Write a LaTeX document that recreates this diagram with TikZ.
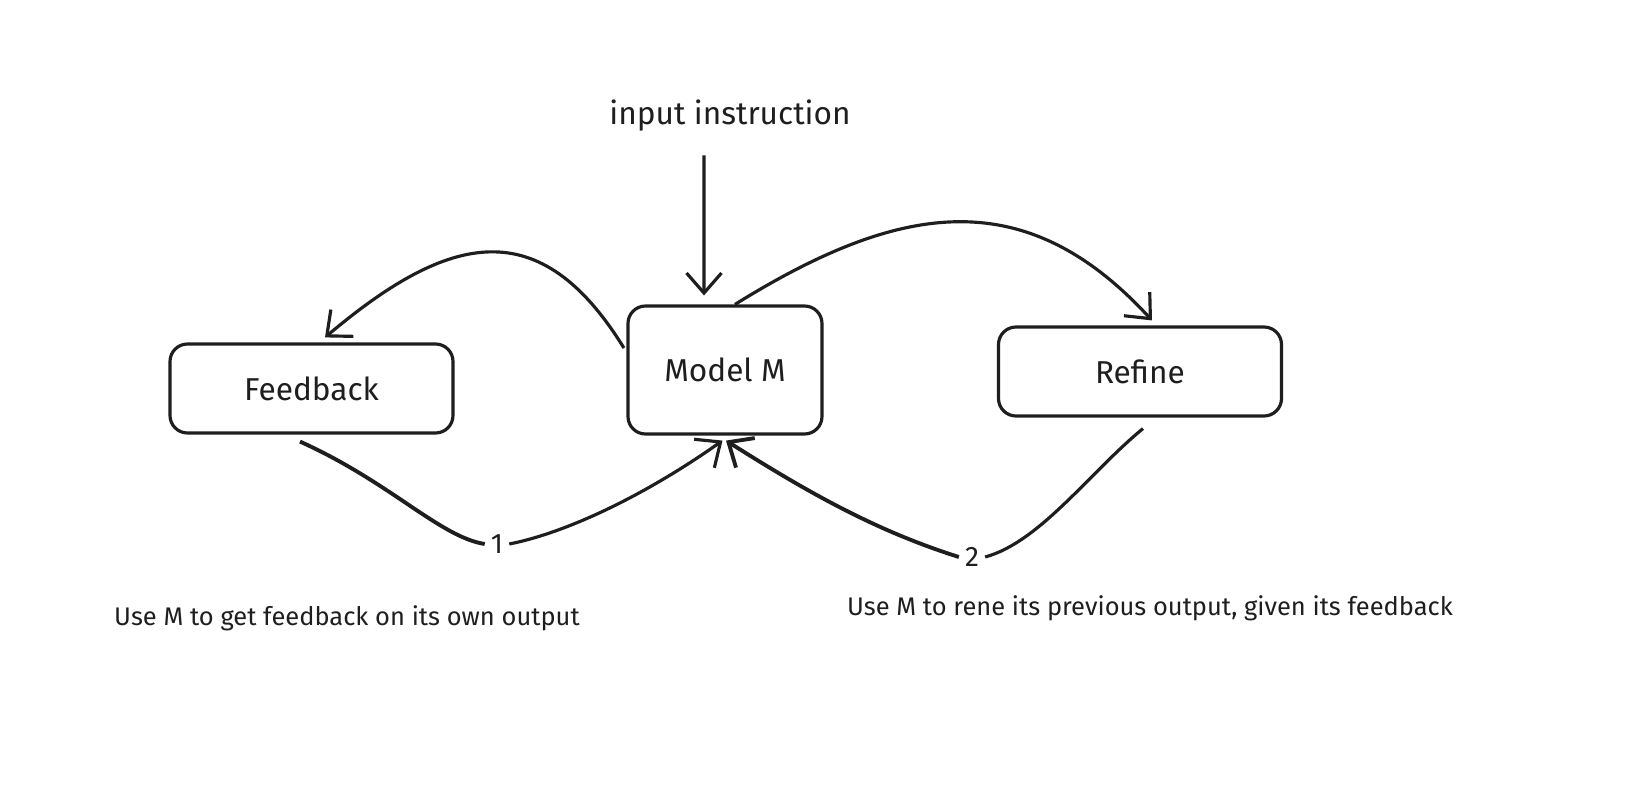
\documentclass[tikz,border=0pt]{standalone}
\usepackage{fontspec}
\setmainfont{Fira Sans}
\usepackage{tikz}
\usetikzlibrary{arrows.meta,positioning,calc}
\definecolor{inkblack}{HTML}{1E1E1E}

\begin{document}
\begin{tikzpicture}[
    stage/.style={rectangle, draw=inkblack, fill=white, text=inkblack,
                 minimum width=5.66cm, minimum height=1.78cm, line width=1.8pt,
                 rounded corners=0.35cm, font=\fontsize{18}{21}\selectfont},
    flow/.style={-{Straight Barb[length=4mm,width=7mm]}, line width=1.8pt, color=inkblack},
    note/.style={text=inkblack, font=\fontsize{14.5}{17}\selectfont}
]
    \useasboundingbox (0,0) rectangle (32.52,15.84);

    % Boxes
    \node[stage] (feedback) at (6.23,8.07) {Feedback};
    \node[stage, minimum width=3.88cm, minimum height=2.56cm] (model) at (14.5,8.44) {Model M};
    \node[stage] (refine) at (22.8,8.41) {Refine};

    % Input
    \node[text=inkblack, font=\fontsize{18}{21}\selectfont] (input) at (14.6,13.52) {input instruction};
    \draw[flow] ($(input.south)+(-0.52,-0.35)$) -- ($(model.north)+(-0.42,0.18)$);

    % Upper arcs
    \draw[flow] ($(model.west)+(-0.05,0.44)$) .. controls (10.8,11.6) and (9.0,11.2) .. ($(feedback.north)+(0.27,0.1)$);
    \draw[flow] ($(model.north)+(0.2,0)$) .. controls (18.0,11.8) and (20.5,12.2) .. ($(refine.north)+(0.24,0.1)$);

    % Step numbers
    \node[font=\fontsize{16}{18}\selectfont, text=inkblack] (one) at (9.94,4.96) {1};
    \node[font=\fontsize{16}{18}\selectfont, text=inkblack] (two) at (19.44,4.7) {2};

    % Lower arcs
    \draw[line width=2.2pt, inkblack] ($(feedback.south)+(-0.23,-0.14)$) .. controls (7.8,6.2) and (8.8,5.1) .. (one.west);
    \draw[flow] (one.east) .. controls (11.4,5.2) and (13.0,6.0) .. ($(model.south)+(-0.05,-0.1)$);
    \draw[line width=1.8pt, inkblack] ($(refine.south)+(0.06,-0.22)$) .. controls (21.8,6.4) and (20.8,5.0) .. (two.east);
    \draw[flow, line width=2.2pt] (two.west) .. controls (17.6,5.2) and (16.3,5.9) .. ($(model.south)+(0.02,-0.1)$);

    % Notes
    \node[note] (notefb) at (6.94,3.48) {Use M to get feedback on its own output};
    \node[note] (noterf) at (23.0,3.68) {Use M to rene its previous output, given its feedback};
\end{tikzpicture}
\end{document}
